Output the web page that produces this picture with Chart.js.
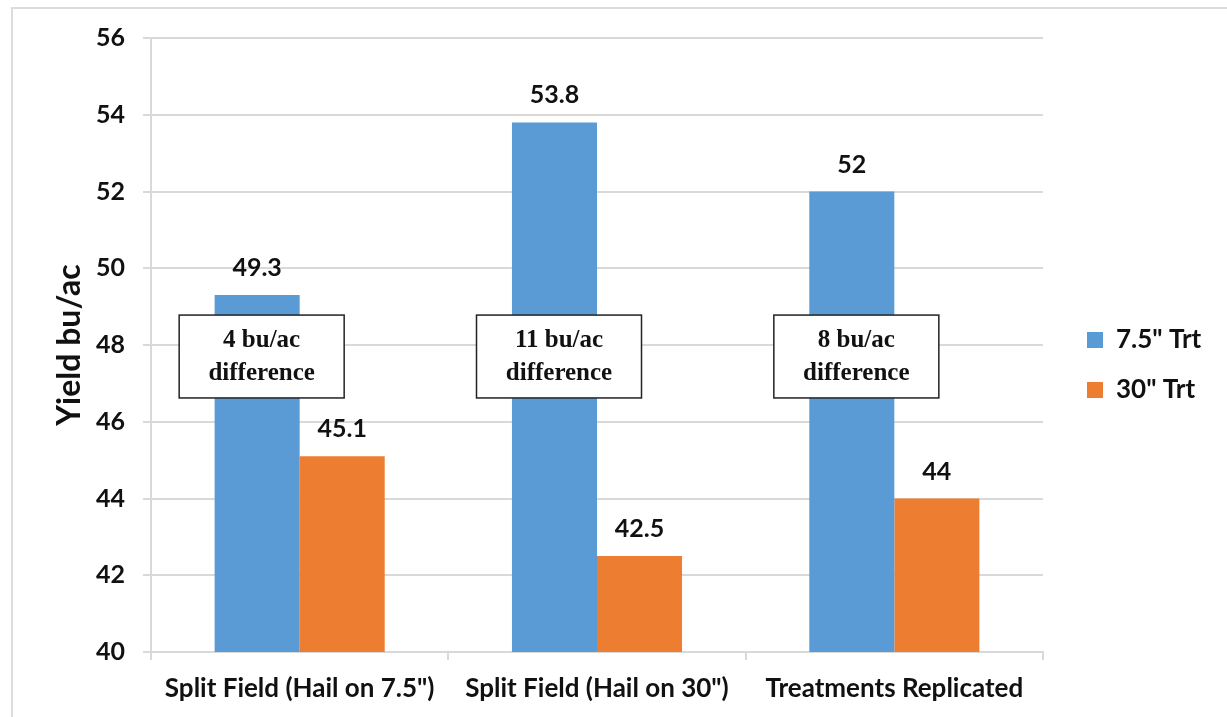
<!DOCTYPE html>
<html>
<head>
<meta charset="utf-8">
<script src="https://cdn.jsdelivr.net/npm/chart.js@4/dist/chart.umd.min.js"></script>
<style>
  html, body { margin: 0; padding: 0; background: #fff; }
  #wrap { position: relative; width: 1227px; height: 717px; overflow: hidden; }
  #frame { position: absolute; left: 11px; top: 7px; right: -5px; bottom: -5px;
           border-top: 2px solid #dcdcdc; border-left: 2px solid #dcdcdc; pointer-events: none; }
  canvas { position: absolute; left: 0; top: 0; }
</style>
</head>
<body>
<div id="wrap">
  <canvas id="chart" width="1227" height="717"></canvas>
  <div id="frame"></div>
</div>
<script>
// Yield comparison: 7.5" vs 30" row spacing
const categories = ['Split Field (Hail on 7.5")', 'Split Field (Hail on 30")', 'Treatments Replicated'];
const narrowRows = [49.3, 53.8, 52];
const wideRows = [45.1, 42.5, 44];
const differenceNotes = [['4 bu/ac', 'difference'], ['11 bu/ac', 'difference'], ['8 bu/ac', 'difference']];
const seriesNames = ['7.5" Trt', '30" Trt'];
const yTicks = [40, 42, 44, 46, 48, 50, 52, 54, 56];

const SANS = 'Lato, "Open Sans", sans-serif';
const SERIF = '"Liberation Serif", "DejaVu Serif", serif';
const GRID = '#d9d9d9';
const INK = '#111';

// Value labels above each bar
const valueLabels = {
  id: 'valueLabels',
  afterDatasetsDraw(chart) {
    const ctx = chart.ctx;
    ctx.save();
    ctx.font = 'bold 25px ' + SANS;
    ctx.fillStyle = INK;
    ctx.textAlign = 'center';
    ctx.textBaseline = 'middle';
    chart.data.datasets.forEach((ds, di) => {
      chart.getDatasetMeta(di).data.forEach((bar, i) => {
        ctx.fillText(String(ds.data[i]), bar.x, bar.y - 27);
      });
    });
    ctx.restore();
  }
};

// Boxed notes giving the difference between the two spacings
const noteBoxes = {
  id: 'noteBoxes',
  afterDatasetsDraw(chart) {
    const ctx = chart.ctx;
    const xs = chart.scales.x, ys = chart.scales.y;
    ctx.save();
    differenceNotes.forEach((lines, i) => {
      const cx = xs.getPixelForValue(i) - 38;
      const top = ys.getPixelForValue(48.78);
      const bottom = ys.getPixelForValue(46.62);
      const w = 165;
      ctx.fillStyle = '#fff';
      ctx.fillRect(cx - w / 2, top, w, bottom - top);
      ctx.strokeStyle = '#222';
      ctx.lineWidth = 1.5;
      ctx.strokeRect(cx - w / 2, top, w, bottom - top);
      ctx.fillStyle = INK;
      ctx.font = 'bold 25px ' + SERIF;
      ctx.textAlign = 'center';
      ctx.textBaseline = 'middle';
      const mid = (top + bottom) / 2;
      ctx.fillText(lines[0], cx, mid - 16);
      ctx.fillText(lines[1], cx, mid + 17);
    });
    ctx.restore();
  }
};

// Series key to the right of the plot
const sideLegend = {
  id: 'sideLegend',
  afterDraw(chart) {
    const ctx = chart.ctx;
    const area = chart.chartArea;
    const x0 = area.right + 44;
    const yMid = (area.top + area.bottom) / 2 + 20;
    ctx.save();
    ctx.font = 'bold 26px ' + SANS;
    ctx.textBaseline = 'middle';
    ctx.textAlign = 'left';
    chart.data.datasets.forEach((ds, i) => {
      const y = yMid + (i - 0.5) * 50;
      ctx.fillStyle = ds.backgroundColor;
      ctx.fillRect(x0, y - 8, 16, 16);
      ctx.fillStyle = INK;
      ctx.fillText(ds.label, x0 + 29, y);
    });
    ctx.restore();
  }
};

new Chart(document.getElementById('chart'), {
  type: 'bar',
  data: {
    labels: categories,
    datasets: [
      { label: seriesNames[0], data: narrowRows, backgroundColor: '#5b9bd5' },
      { label: seriesNames[1], data: wideRows, backgroundColor: '#ed7d31' }
    ]
  },
  plugins: [valueLabels, noteBoxes, sideLegend],
  options: {
    responsive: false,
    animation: false,
    devicePixelRatio: 1,
    categoryPercentage: 0.572,
    barPercentage: 1,
    layout: { padding: { left: 50, top: 38, right: 184, bottom: 0 } },
    plugins: {
      tooltip: { enabled: false },
      legend: { display: false }
    },
    scales: {
      x: {
        afterFit(scale) { scale.height = 65; },
        grid: { display: true, drawOnChartArea: false, offset: true, color: GRID, lineWidth: 2, tickLength: 8 },
        border: { color: GRID, width: 2 },
        ticks: { font: { family: SANS, size: 26, weight: 'bold' }, color: INK, padding: 13, maxRotation: 0, autoSkip: false }
      },
      y: {
        min: 40,
        max: 56,
        afterFit(scale) { scale.width = 101; },
        afterBuildTicks(scale) { scale.ticks = yTicks.map(v => ({ value: v })); },
        grid: { color: GRID, lineWidth: 2, tickLength: 8 },
        border: { color: GRID, width: 2 },
        ticks: { font: { family: SANS, size: 25, weight: 'bold' }, color: INK, padding: 18 },
        title: { display: true, text: 'Yield bu/ac', font: { family: SANS, size: 32, weight: 'bold' }, color: INK, padding: { top: 0, bottom: 10 } }
      }
    }
  }
});
</script>
</body>
</html>
